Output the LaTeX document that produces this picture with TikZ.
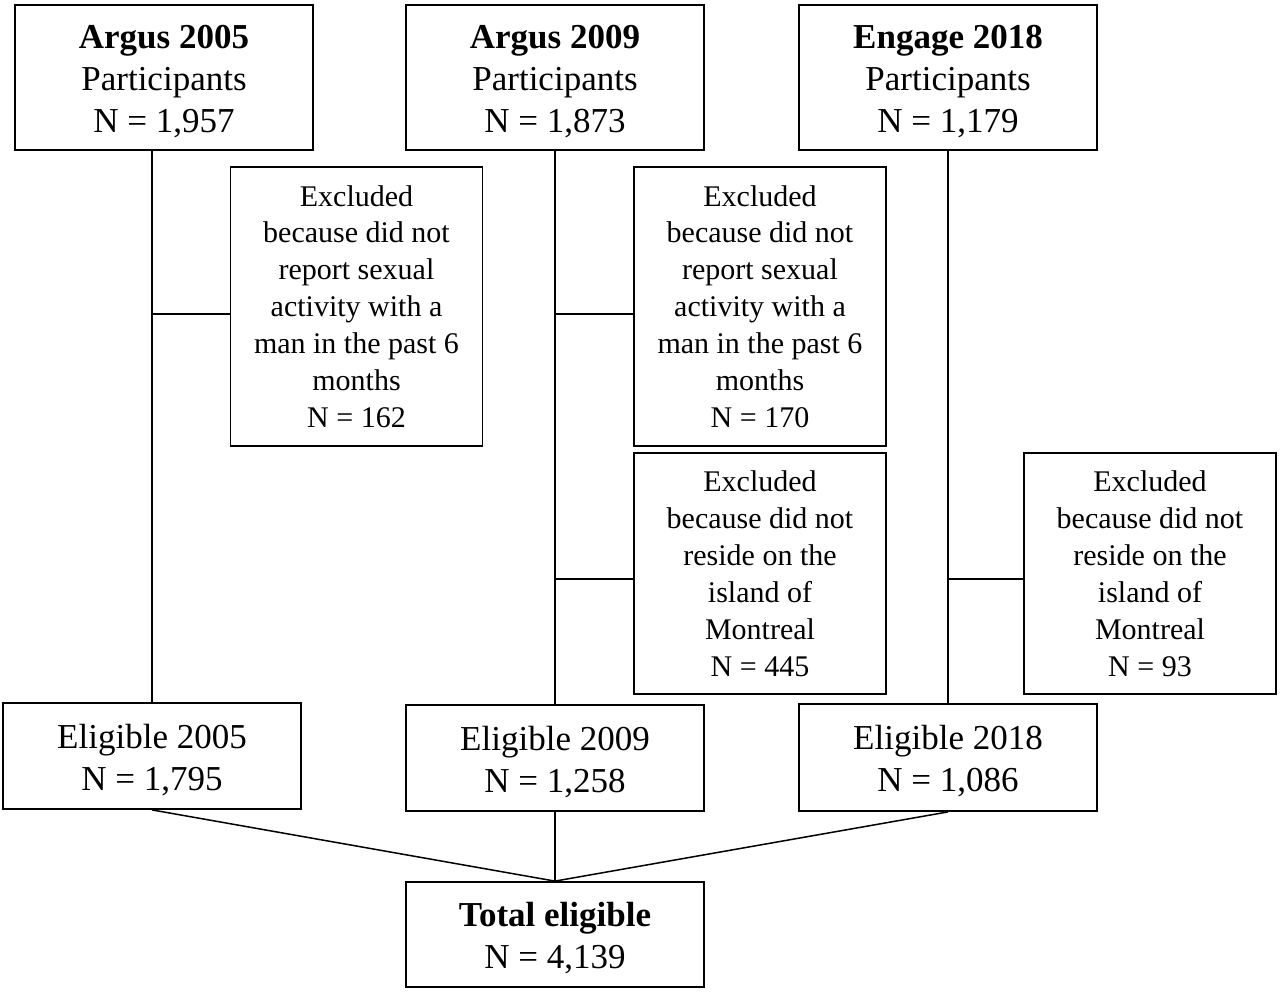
\documentclass[tikz,border=0pt]{standalone}
\usepackage{fontspec}
\setmainfont{Liberation Serif}
\newcommand{\topstrut}{\rule{0pt}{32pt}}
\begin{document}
\begin{tikzpicture}[x=1pt,y=-1pt,
 box/.style={draw, line width=1.8pt, inner sep=0pt, align=center, font=\fontsize{35}{42}\selectfont},
 exbox/.style={box, minimum width=252pt, font=\fontsize{30}{36.9}\selectfont},
 ln/.style={line width=1.5pt}]
\useasboundingbox (0,0) rectangle (1280,991);
% top boxes
\node[box, minimum width=298pt, minimum height=145pt] (a05) at (164,77.5) {\topstrut\textbf{Argus 2005}\\Participants\\N = 1,957};
\node[box, minimum width=298pt, minimum height=145pt] (a09) at (555,77.5) {\topstrut\textbf{Argus 2009}\\Participants\\N = 1,873};
\node[box, minimum width=298pt, minimum height=145pt] (e18) at (948,77.5) {\topstrut\textbf{Engage 2018}\\Participants\\N = 1,179};
% excluded boxes
\node[exbox, minimum height=279pt] (x1) at (356.5,306.5) {Excluded\\because did not\\report sexual\\activity with a\\man in the past 6\\months\\N = 162};
\node[exbox, minimum height=279pt] (x2) at (760,306.5) {Excluded\\because did not\\report sexual\\activity with a\\man in the past 6\\months\\N = 170};
\node[exbox, minimum height=241pt] (x3) at (760,573.5) {Excluded\\because did not\\reside on the\\island of\\Montreal\\N = 445};
\node[exbox, minimum height=241pt] (x4) at (1150,573.5) {Excluded\\because did not\\reside on the\\island of\\Montreal\\N = 93};
% eligible boxes
\node[box, minimum width=298pt, minimum height=106pt] (g05) at (152,756) {\topstrut Eligible 2005\\N = 1,795};
\node[box, minimum width=298pt, minimum height=106pt] (g09) at (555,758) {\topstrut Eligible 2009\\N = 1,258};
\node[box, minimum width=298pt, minimum height=107pt] (g18) at (948,757.5) {\topstrut Eligible 2018\\N = 1,086};
% total
\node[box, minimum width=298pt, minimum height=105pt] (tot) at (555,934.5) {\topstrut\textbf{Total eligible}\\N = 4,139};
% branch points
\coordinate (b1) at (152,314);
\coordinate (b2) at (555,314);
\coordinate (b3) at (555,579);
\coordinate (b4) at (948,579);
% connectors
\draw[ln] (a05.south -| g05.north) -- (g05.north);
\draw[ln] (a09.south) -- (g09.north);
\draw[ln] (e18.south) -- (g18.north);
\draw[ln] (b1) -- (b1 -| x1.west);
\draw[ln] (b2) -- (b2 -| x2.west);
\draw[ln] (b3) -- (b3 -| x3.west);
\draw[ln] (b4) -- (b4 -| x4.west);
\draw[ln] (g05.south) -- (tot.north);
\draw[ln] (g09.south) -- (tot.north);
\draw[ln] (g18.south) -- (tot.north);
\end{tikzpicture}
\end{document}
